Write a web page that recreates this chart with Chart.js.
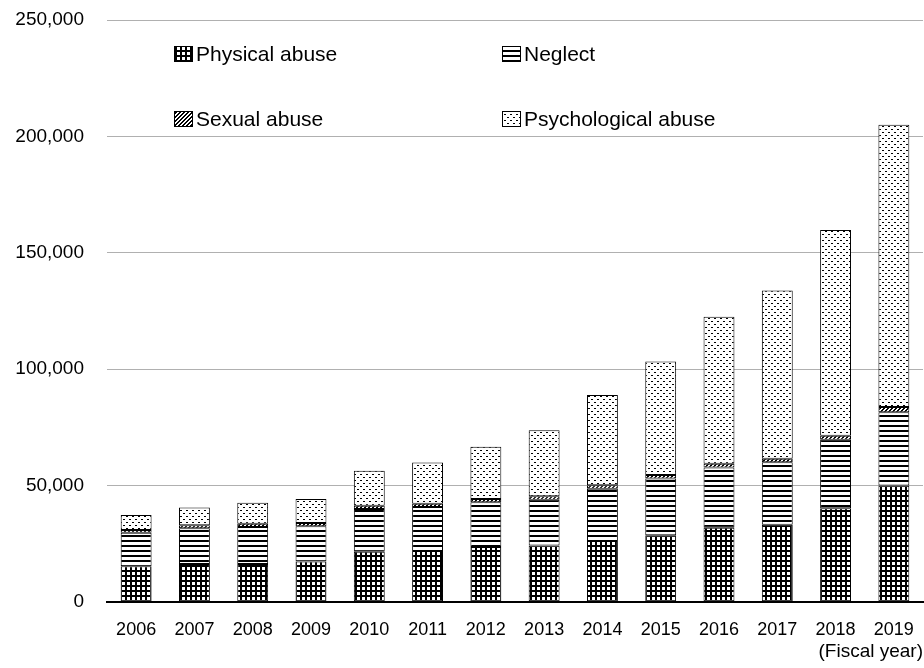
<!DOCTYPE html>
<html>
<head>
<meta charset="utf-8">
<script src="https://cdn.jsdelivr.net/npm/chart.js@4"></script>
<style>
  body { margin: 0; background: #fff; }
  #wrap { width: 924px; height: 668px; }
</style>
</head>
<body>
<div id="wrap"><canvas id="abuseChart" width="924" height="668"></canvas></div>
<script>
// Child abuse consultations by type (fiscal year)
const years = ['2006', '2007', '2008', '2009', '2010', '2011', '2012', '2013', '2014', '2015', '2016', '2017', '2018', '2019'];
const physical = [15364, 16296, 16343, 17371, 21559, 21942, 23579, 24245, 26181, 28621, 31925, 33223, 40238, 50035];
const neglect = [14365, 15429, 15905, 15185, 18352, 18847, 19250, 19627, 22455, 24444, 25842, 26821, 29479, 31430];
const sexual = [1180, 1293, 1324, 1350, 1405, 1460, 1449, 1582, 1520, 1521, 1622, 1537, 1730, 2245];
const psychological = [6414, 7621, 9092, 10305, 15068, 17670, 22423, 28348, 38775, 48700, 63186, 72197, 88391, 121334];
const yTicks = [0, 50000, 100000, 150000, 200000, 250000];

const FONT = 'Arial, "Liberation Sans", sans-serif';

// Build a repeating fill pattern from a small tile
function makePattern(w, h, draw) {
    const tile = document.createElement('canvas');
    tile.width = w;
    tile.height = h;
    const g = tile.getContext('2d');
    g.fillStyle = '#fff';
    g.fillRect(0, 0, w, h);
    g.fillStyle = '#000';
    draw(g);
    return g.createPattern(tile, 'repeat');
}

const gridFill = makePattern(5, 5, function(g) {
    g.fillRect(0, 0, 5, 2);
    g.fillRect(0, 0, 2, 5);
});
const lineFill = makePattern(1, 5, function(g) {
    g.fillRect(0, 0, 1, 2);
});
const hatchFill = makePattern(4, 4, function(g) {
    g.fillRect(3, 0, 1, 1);
    g.fillRect(2, 1, 1, 1);
    g.fillRect(1, 2, 1, 1);
    g.fillRect(0, 3, 1, 1);
    g.fillRect(0, 0, 1, 1);
    g.fillRect(3, 1, 1, 1);
    g.fillRect(2, 2, 1, 1);
    g.fillRect(1, 3, 1, 1);
});
const dotFill = makePattern(6, 6, function(g) {
    g.fillRect(0, 0, 2, 1);
    g.fillRect(3, 3, 2, 1);
});

// Legend drawn inside the plot, two columns
const legendItems = [
    { text: 'Physical abuse', fill: gridFill, x: 174, y: 54 },
    { text: 'Neglect', fill: lineFill, x: 502, y: 54 },
    { text: 'Sexual abuse', fill: hatchFill, x: 174, y: 119 },
    { text: 'Psychological abuse', fill: dotFill, x: 502, y: 119 }
];

const insideLegend = {
    id: 'insideLegend',
    afterDraw(chart) {
        const ctx = chart.ctx;
        ctx.save();
        ctx.font = '21px ' + FONT;
        ctx.textBaseline = 'middle';
        legendItems.forEach(function(item) {
            ctx.fillStyle = item.fill;
            ctx.fillRect(item.x, item.y - 8, 19, 16);
            ctx.strokeStyle = '#000';
            ctx.lineWidth = 1;
            ctx.strokeRect(item.x + 0.5, item.y - 7.5, 18, 15);
            ctx.fillStyle = '#000';
            ctx.fillText(item.text, item.x + 22, item.y + 1);
        });
        ctx.restore();
    }
};

function barSet(label, data, fill) {
    return {
        label: label,
        data: data,
        backgroundColor: fill,
        borderColor: '#000',
        borderWidth: 1,
        borderSkipped: false,
        barPercentage: 0.53,
        categoryPercentage: 1
    };
}

new Chart(document.getElementById('abuseChart'), {
    type: 'bar',
    data: {
        labels: years,
        datasets: [
            barSet('Physical abuse', physical, gridFill),
            barSet('Neglect', neglect, lineFill),
            barSet('Sexual abuse', sexual, hatchFill),
            barSet('Psychological abuse', psychological, dotFill)
        ]
    },
    options: {
        responsive: false,
        animation: false,
        devicePixelRatio: 1,
        layout: { padding: { top: 20, right: 1, left: 0, bottom: 0 } },
        plugins: {
            legend: { display: false },
            tooltip: { enabled: false }
        },
        scales: {
            x: {
                stacked: true,
                grid: { display: false },
                border: { display: true, color: '#000', width: 2 },
                ticks: { color: '#000', font: { family: FONT, size: 18 }, padding: 9, maxRotation: 0 },
                title: {
                    display: true,
                    text: '(Fiscal year)',
                    align: 'end',
                    color: '#000',
                    font: { family: FONT, size: 19 },
                    padding: { top: 0, bottom: 5 }
                },
                afterFit: function(scale) { scale.height = 66; }
            },
            y: {
                stacked: true,
                min: 0,
                max: 250000,
                afterBuildTicks: function(scale) {
                    scale.ticks = yTicks.map(function(v) { return { value: v }; });
                },
                grid: { color: '#b0b0b0', lineWidth: 1, drawTicks: false },
                border: { display: false },
                ticks: {
                    color: '#000',
                    font: { family: FONT, size: 19 },
                    padding: 23,
                    callback: function(v) { return v.toLocaleString('en-US'); }
                },
                afterFit: function(scale) {
                    scale.width = 107;
                    scale.paddingTop = 0;
                    scale.paddingBottom = 0;
                }
            }
        }
    },
    plugins: [insideLegend]
});
</script>
</body>
</html>
